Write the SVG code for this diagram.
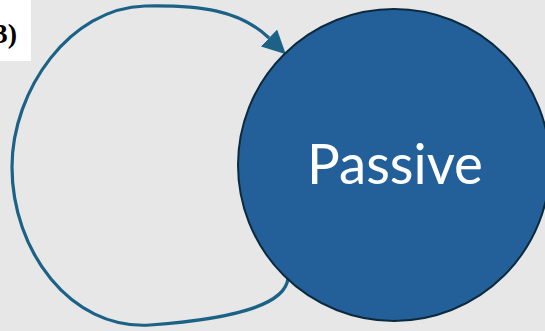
<svg xmlns="http://www.w3.org/2000/svg" width="545" height="331" viewBox="0 0 545 331">
  <style>
    .conn { fill: none; stroke: #1b6286; stroke-width: 3.2; }
    .label { font-family: "Lato", "Open Sans", sans-serif; fill: #ffffff; }
    .tag { font-family: "Liberation Serif", serif; font-weight: bold; fill: #000000; }
  </style>
  <defs>
    <marker id="arrow" viewBox="0 0 10 10" refX="0" refY="5" markerWidth="7.3" markerHeight="7.3" orient="auto" markerUnits="strokeWidth">
      <path d="M0,0 L10,5 L0,10 Z" fill="#1b6286"/>
    </marker>
  </defs>
  <rect x="0" y="0" width="545" height="331" fill="#e7e7e7"/>
  <rect x="0" y="0" width="31" height="61" fill="#ffffff"/>
  <text class="tag" x="17" y="43" font-size="28" text-anchor="end">3)</text>
  <g id="connectors">
    <path class="conn" d="M288,278 C286,302 245,318 150,325 C70,330 12,250 12,167 C12,90 70,8 145,6 C200,5 240,10 269,38" marker-end="url(#arrow)"/>
  </g>
  <g id="passive">
    <circle cx="394" cy="165" r="156" fill="#23609a" stroke="#0c2a3e" stroke-width="2"/>
    <text class="label" x="395" y="184" font-size="56" text-anchor="middle" textLength="176" lengthAdjust="spacingAndGlyphs">Passive</text>
  </g>
</svg>
